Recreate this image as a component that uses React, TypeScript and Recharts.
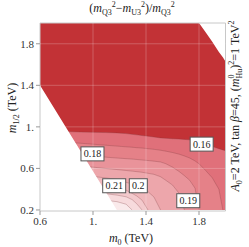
import React from "react";
import {
  ComposedChart,
  Area,
  Scatter,
  XAxis,
  YAxis,
  ReferenceLine,
  ReferenceArea,
} from "recharts";

const m0Grid = [
  0.6, 0.7, 0.8, 0.9, 1.0, 1.1, 1.18, 1.25, 1.295, 1.33, 1.37, 1.415, 1.46,
  1.51, 1.55, 1.6, 1.65, 1.69, 1.73, 1.77, 1.8, 1.85, 1.9, 1.95, 1.98, 2.0,
];

// upper edge of the allowed region (m1/2, TeV)
const topEdge = [
  2, 2, 2, 2, 2, 2, 2, 2, 2, 2, 2, 2, 2, 2, 2, 2, 2, 2, 2, 2, 2, 1.91, 1.82,
  1.72, 1.67, 1.63,
];

// lower-left edge (excluded area below it)
const leftEdge = [
  1.4, 1.193, 0.986, 0.779, 0.572, 0.366, 0.2, null, null, null, null, null,
  null, null, null, null, null, null, null, null, null, null, null, null, null,
  null,
];

// contour lines of (mQ3^2 - mU3^2)/mQ3^2
const c16 = [
  0.96, 0.958, 0.955, 0.95, 0.948, 0.945, 0.942, 0.935, 0.928, 0.923, 0.916,
  0.91, 0.902, 0.894, 0.89, 0.886, 0.882, 0.879, 0.875, 0.866, 0.857, 0.832,
  0.81, 0.79, 0.778, 0.77,
];
const c17 = [
  0.86, 0.857, 0.852, 0.843, 0.833, 0.823, 0.815, 0.808, 0.804, 0.8, 0.796,
  0.79, 0.784, 0.775, 0.766, 0.753, 0.737, 0.72, 0.7, 0.672, 0.645, 0.58, 0.51,
  0.4, 0.2, null,
];
const c18 = [
  0.75, 0.745, 0.74, 0.733, 0.722, 0.708, 0.7, 0.694, 0.69, 0.686, 0.681,
  0.676, 0.67, 0.662, 0.645, 0.612, 0.57, 0.53, 0.485, 0.41, 0.2, null, null,
  null, null, null,
];
const c19 = [
  0.64, 0.635, 0.63, 0.622, 0.612, 0.599, 0.589, 0.58, 0.574, 0.569, 0.563,
  0.553, 0.543, 0.52, 0.485, 0.44, 0.36, 0.2, null, null, null, null, null,
  null, null, null,
];
const c20 = [
  0.56, 0.553, 0.545, 0.535, 0.523, 0.508, 0.494, 0.466, 0.45, 0.436, 0.41,
  0.376, 0.325, 0.2, null, null, null, null, null, null, null, null, null, null,
  null, null,
];
const c21 = [
  0.47, 0.462, 0.455, 0.447, 0.44, 0.428, 0.415, 0.39, 0.36, 0.335, 0.295, 0.2,
  null, null, null, null, null, null, null, null, null, null, null, null, null,
  null,
];
const c22 = [
  0.39, 0.385, 0.378, 0.37, 0.363, 0.356, 0.343, 0.327, 0.3, 0.26, 0.2, null,
  null, null, null, null, null, null, null, null, null, null, null, null, null,
  null,
];
const c23 = [
  0.31, 0.307, 0.304, 0.3, 0.296, 0.292, 0.28, 0.255, 0.2, null, null, null,
  null, null, null, null, null, null, null, null, null, null, null, null, null,
  null,
];

const contourKeys = ["c16", "c17", "c18", "c19", "c20", "c21", "c22", "c23"];
const bandColors = [
  "#e0707a",
  "#e58188",
  "#e9939a",
  "#eda6ab",
  "#f0b8bc",
  "#f3c9cc",
  "#f7dadc",
  "#faeaeb",
];

// contour labels
const labelM0 = [1.82, 0.996, 1.16, 1.342, 1.719];
const labelM12 = [0.834, 0.74, 0.433, 0.433, 0.289];
const labelText = ["0.16", "0.18", "0.21", "0.2", "0.19"];

const xTicks = [0.6, 1.0, 1.4, 1.8];
const xTickLabels = ["0.6", "1.", "1.4", "1.8"];
const yTicks = [0.2, 0.6, 1.0, 1.4, 1.8];
const yTickLabels = ["0.2", "0.6", "1.", "1.4", "1.8"];

const data = m0Grid.map((m0, i) => ({
  m0,
  top: topEdge[i],
  mask: leftEdge[i],
  c16: c16[i],
  c17: c17[i],
  c18: c18[i],
  c19: c19[i],
  c20: c20[i],
  c21: c21[i],
  c22: c22[i],
  c23: c23[i],
}));

const labels = labelM0.map((m0, i) => ({
  m0,
  m12: labelM12[i],
  text: labelText[i],
}));

const SERIF = "'Liberation Serif', 'DejaVu Serif', serif";

function LabelBox(props: any) {
  const { cx, cy, payload } = props;
  const w = payload.text.length * 5 + 3;
  const h = 14;
  return (
    <g>
      <rect
        x={cx - w / 2}
        y={cy - h / 2}
        width={w}
        height={h}
        fill="#fff"
        stroke="#555"
        strokeWidth={1}
      />
      <text
        x={cx}
        y={cy + 3.5}
        textAnchor="middle"
        fontSize={10}
        fontFamily={SERIF}
        fill="#222"
      >
        {payload.text}
      </text>
    </g>
  );
}

function SupSub({ sup, sub }: { sup: string; sub: string }) {
  return (
    <span
      style={{
        display: "inline-flex",
        flexDirection: "column",
        verticalAlign: "middle",
        fontSize: 8,
        lineHeight: "8px",
        fontStyle: "normal",
      }}
    >
      <span>{sup}</span>
      <span>{sub}</span>
    </span>
  );
}

const sub = (t: string) => (
  <span style={{ fontSize: 8, position: "relative", top: 3, fontStyle: "normal" }}>{t}</span>
);
const sup = (t: string) => (
  <span style={{ fontSize: 8, position: "relative", top: -5, fontStyle: "normal" }}>{t}</span>
);

export default function App() {
  return (
    <div
      style={{
        position: "absolute",
        left: 0,
        top: 0,
        width: 249,
        height: 247,
        background: "#fff",
        fontFamily: SERIF,
        color: "#222",
      }}
    >
      <ComposedChart
        width={249}
        height={247}
        data={data}
        margin={{ top: 23, right: 23.5, left: 0, bottom: 0 }}
      >
        <XAxis
          dataKey="m0"
          type="number"
          domain={[0.6, 2.0]}
          ticks={xTicks}
          tickFormatter={(v, i) => xTickLabels[i] ?? String(v)}
          allowDataOverflow
          height={36}
          axisLine={false}
          tickSize={4}
          tickLine={{ stroke: "#999" }}
          tick={{ fontSize: 11, fontFamily: SERIF, fill: "#333" }}
        />
        <YAxis
          type="number"
          domain={[0.19, 2.0]}
          ticks={yTicks}
          tickFormatter={(v, i) => yTickLabels[i] ?? String(v)}
          allowDataOverflow
          width={40}
          axisLine={false}
          tickSize={4}
          tickLine={{ stroke: "#999" }}
          tick={{ fontSize: 11, fontFamily: SERIF, fill: "#333" }}
        />
        <Area
          type="linear"
          dataKey="top"
          baseValue={0.2}
          fill="#c23236"
          fillOpacity={1}
          stroke="none"
          isAnimationActive={false}
        />
        {contourKeys.map((k, i) => (
          <Area
            key={k}
            type="linear"
            dataKey={k}
            baseValue={0.2}
            fill={bandColors[i]}
            fillOpacity={1}
            stroke="#7a3a3e"
            strokeOpacity={0.4}
            strokeWidth={0.7}
            dot={false}
            activeDot={false}
            isAnimationActive={false}
          />
        ))}
        <Area
          type="linear"
          dataKey="mask"
          baseValue={0.19}
          fill="#fff"
          fillOpacity={1}
          stroke="none"
          activeDot={false}
          isAnimationActive={false}
        />
        {xTicks.slice(1).map((x) => (
          <ReferenceLine key={"gx" + x} x={x} stroke="#fff" strokeOpacity={0.22} />
        ))}
        {yTicks.slice(1).map((y) => (
          <ReferenceLine key={"gy" + y} y={y} stroke="#fff" strokeOpacity={0.22} />
        ))}
        <ReferenceArea
          x1={0.6}
          x2={2.0}
          y1={0.19}
          y2={2.0}
          fill="none"
          stroke="#c8c8c8"
          strokeWidth={1}
        />
        <Scatter
          data={labels}
          dataKey="m12"
          shape={LabelBox}
          isAnimationActive={false}
        />
      </ComposedChart>

      <div
        style={{
          position: "absolute",
          left: 0,
          width: 264,
          top: 1,
          textAlign: "center",
          fontSize: 12,
          whiteSpace: "nowrap",
        }}
      >
        (<i>m</i>
        {sub("Q3")}
        {sup("2")}−<i>m</i>
        {sub("U3")}
        {sup("2")})/<i>m</i>
        {sub("Q3")}
        {sup("2")}
      </div>

      <div
        style={{
          position: "absolute",
          left: 12,
          top: 108,
          transform: "translate(-50%, -50%) rotate(-90deg)",
          fontSize: 12,
          whiteSpace: "nowrap",
        }}
      >
        <i>m</i>
        {sub("1/2")} (TeV)
      </div>

      <div
        style={{
          position: "absolute",
          left: 131,
          top: 238,
          transform: "translate(-50%, -50%)",
          fontSize: 12,
          whiteSpace: "nowrap",
        }}
      >
        <i>m</i>
        {sub("0")} (TeV)
      </div>

      <div
        style={{
          position: "absolute",
          left: 236,
          top: 106,
          transform: "translate(-50%, -50%) rotate(-90deg)",
          fontSize: 12,
          whiteSpace: "nowrap",
        }}
      >
        <i>A</i>
        {sub("0")}=2 TeV, tan <i>β</i>=45, (<i>m</i>
        <SupSub sup="0" sub="Hu" />)<sup style={{ fontSize: 8 }}>2</sup>=1 TeV
        {sup("2")}
      </div>
    </div>
  );
}
